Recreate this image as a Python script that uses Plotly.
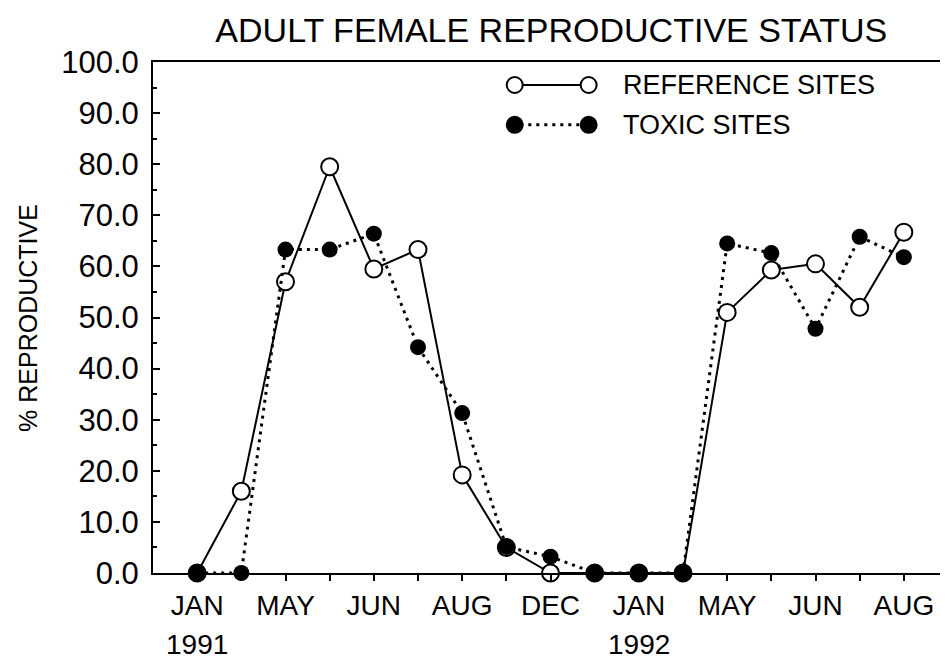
import plotly.graph_objects as go

# --- data (17 sampling dates, Jan 1991 - Aug 1992) ---
sample_idx = list(range(17))
reference_sites = [0, 16, 57, 79.5, 59.5, 63.3, 19.2, 5, 0, 0, 0, 0, 51, 59.3, 60.5, 52, 66.7]
toxic_sites = [0, 0, 63.3, 63.3, 66.4, 44.2, 31.3, 5.1, 3.2, 0, 0, 0, 64.5, 62.6, 47.8, 65.8, 61.8]
month_labels = ["JAN", "", "MAY", "", "JUN", "", "AUG", "", "DEC",
                "", "JAN", "", "MAY", "", "JUN", "", "AUG"]
year_labels = {0: "1991", 10: "1992"}

FONT = "Liberation Sans, Arial, sans-serif"

fig = go.Figure()

fig.add_trace(go.Scatter(
    x=sample_idx, y=reference_sites, mode="lines+markers", name="REFERENCE SITES",
    line=dict(color="black", width=2),
    marker=dict(symbol="circle", size=17, color="white", line=dict(color="black", width=2)),
    cliponaxis=False
))
fig.add_trace(go.Scatter(
    x=sample_idx, y=toxic_sites, mode="lines+markers", name="TOXIC SITES",
    line=dict(color="black", width=3, dash="3px,5px"),
    marker=dict(symbol="circle", size=16, color="black"),
    cliponaxis=False
))

# --- hand-drawn style legend in the upper right ---
legend_rows = [
    (0.955, "REFERENCE SITES", "white", "solid", 2),
    (0.877, "TOXIC SITES", "black", "3px,5px", 3),
]
for ypos, label, fill, dash, lw in legend_rows:
    fig.add_shape(type="line", xref="paper", yref="paper",
                  x0=0.462, x1=0.540, y0=ypos, y1=ypos,
                  line=dict(color="black", width=lw, dash=dash))
    for xc in (0.455, 0.548):
        fig.add_shape(type="circle", xref="paper", yref="paper",
                      xsizemode="pixel", ysizemode="pixel",
                      xanchor=xc, yanchor=ypos, x0=-8, x1=8, y0=-8, y1=8,
                      fillcolor=fill, line=dict(color="black", width=2))
    fig.add_annotation(x=0.589, y=ypos, xref="paper", yref="paper",
                       text=label, showarrow=False, xanchor="left", yanchor="middle",
                       font=dict(family=FONT, size=27, color="black"))

for i, yr in year_labels.items():
    fig.add_annotation(x=i, y=-0.14, xref="x", yref="paper", text=yr,
                       showarrow=False, yanchor="middle",
                       font=dict(family=FONT, size=28, color="black"))

# y axis title placed by hand so the plot area keeps its size
fig.add_annotation(x=-0.158, y=0.5, xref="paper", yref="paper", text="% REPRODUCTIVE",
                   showarrow=False, textangle=-90, xanchor="center", yanchor="middle",
                   font=dict(family=FONT, size=25, color="black"))

# page body adds an 8px margin, so the figure is 8px smaller each way
fig.update_layout(
    width=940, height=652,
    margin=dict(l=145, r=0, t=54, b=87),
    paper_bgcolor="white", plot_bgcolor="white",
    showlegend=False,
    title=dict(text="ADULT FEMALE REPRODUCTIVE STATUS", x=0.578, xanchor="center",
               y=0.966, yanchor="middle",
               font=dict(family=FONT, size=34, color="black")),
    xaxis=dict(
        range=[-1, 17], tickvals=sample_idx, ticktext=month_labels,
        showline=True, linecolor="black", linewidth=2, mirror=True,
        ticks="outside", ticklen=6, tickwidth=1.5, tickcolor="black",
        showgrid=False, zeroline=False, automargin=False,
        tickfont=dict(family=FONT, size=28, color="black"),
    ),
    yaxis=dict(
        range=[0, 100], tickvals=list(range(0, 101, 10)),
        ticktext=[f"{v:.1f}" for v in range(0, 101, 10)],
        showline=True, linecolor="black", linewidth=2, mirror="allticks",
        ticks="inside", ticklen=7, tickwidth=2, tickcolor="black",
        minor=dict(dtick=5, ticks="inside", ticklen=4, tickwidth=1.5, tickcolor="black"),
        showgrid=False, zeroline=False, automargin=False, ticklabelstandoff=6,
        tickfont=dict(family=FONT, size=31, color="black"),
    ),
)

fig.write_html("out.html")
